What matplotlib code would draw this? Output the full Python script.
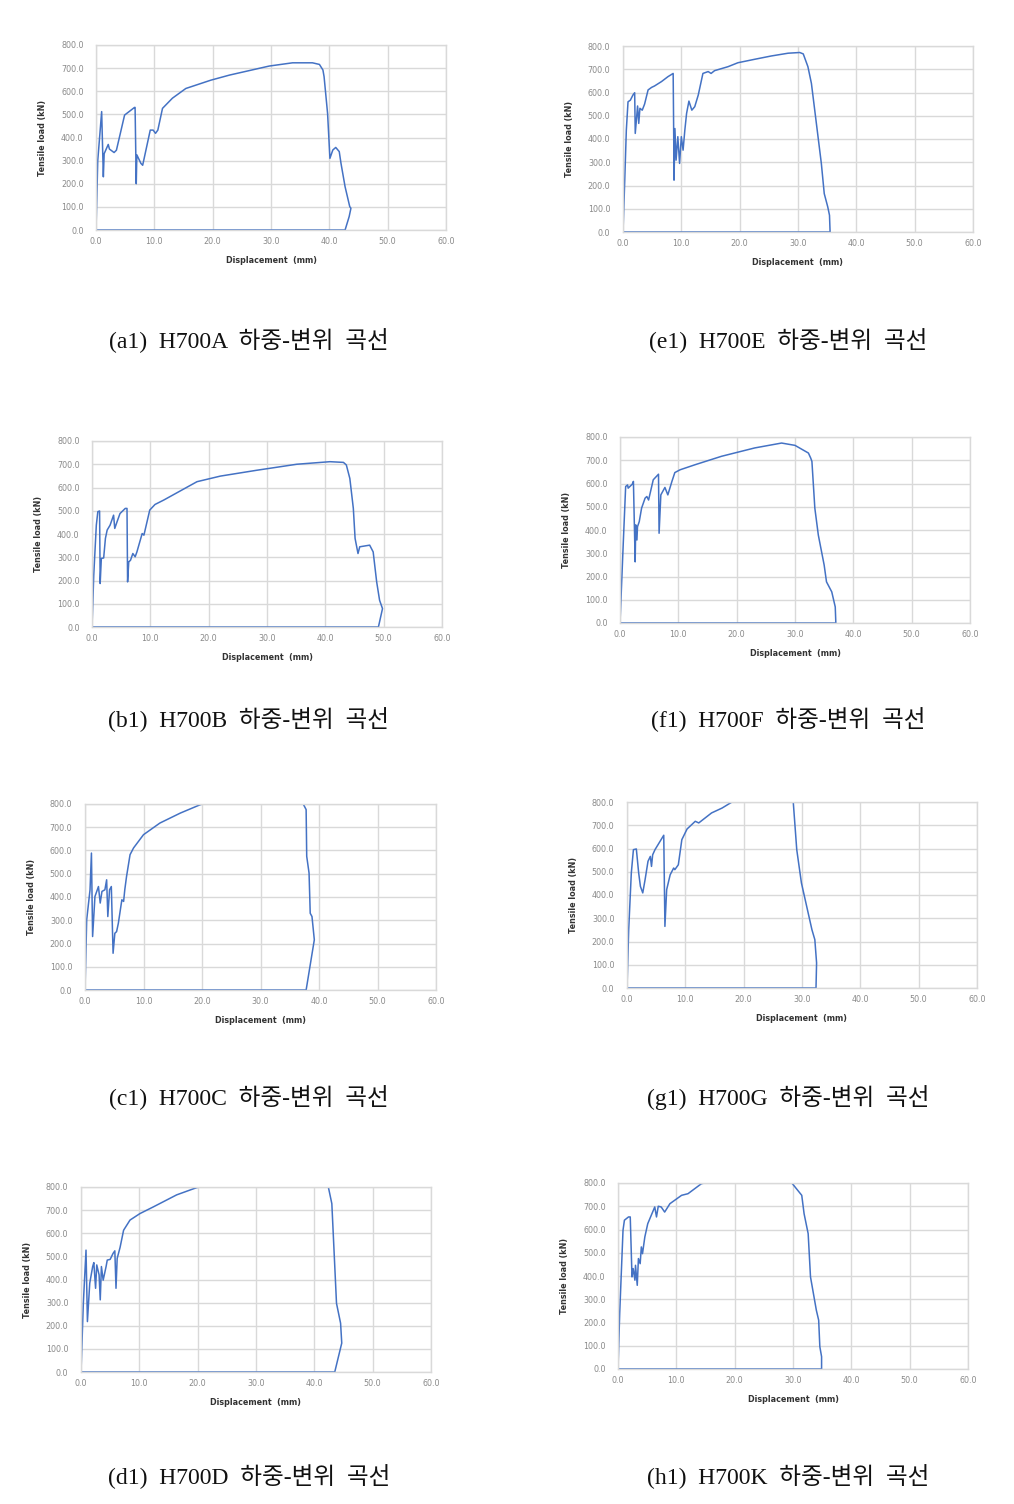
import numpy as np
import matplotlib
matplotlib.use("Agg")
import matplotlib.pyplot as plt

# load-displacement curves (x: mm, y: kN)
a1_x = [0, 0.3, 0.97, 1.26, 1.4, 2.1, 2.3, 3.1, 3.5, 4.9, 6.6, 6.7, 6.9, 7.0, 7.7, 8.0, 9.3, 9.8,
        10.2, 10.6, 11.4, 13.1, 15.4, 19.7, 22.9, 29.7, 33.7, 37.1, 38.3, 38.9, 39.1, 39.7, 40.1,
        40.6, 41.1, 41.7, 42.0, 42.7, 43.5, 43.7, 43.4, 42.7, 0]
a1_y = [0, 300, 512, 230, 330, 370, 350, 335, 345, 497, 530, 530, 200, 325, 288, 280, 432, 432,
        418, 432, 526, 570, 612, 648, 670, 709, 723, 723, 716, 692, 663, 504, 310,
        346, 357, 339, 288, 187, 101, 94, 58, 0, 0]

e1_x = [0, 0.3, 0.57, 0.86, 1.26, 1.7, 2.0, 2.1, 2.5, 2.7, 2.9, 3.3, 3.7, 4.3, 4.9, 5.4, 6.6, 7.7,
        8.6, 8.7, 8.75, 8.9, 9.1, 9.4, 9.7, 10.0, 10.3, 10.6, 10.9, 11.3, 11.8, 12.3, 12.9, 13.7,
        14.6, 15.1, 15.7, 18.0, 19.7, 22.6, 25.4, 28.3, 30.3, 30.9, 31.7, 32.3, 34.0, 34.5, 35.1,
        35.4, 35.5, 0]
e1_y = [0, 223, 438, 560, 567, 589, 599, 424, 542, 467, 532, 524, 550, 611, 622, 628, 647, 668,
        682, 395, 223, 445, 309, 410, 295, 410, 352, 438, 510, 563, 524, 539, 589, 682,
        690, 682, 694, 711, 728, 743, 757, 769, 772, 766, 711, 639, 295, 165, 108,
        72, 0, 0]

b1_x = [0, 0.3, 0.74, 1.0, 1.3, 1.4, 1.6, 2.0, 2.3, 2.6, 3.1, 3.7, 3.9, 4.3, 4.8, 5.7, 6.0, 6.1,
        6.3, 6.6, 7.0, 7.4, 7.7, 8.6, 8.9, 9.9, 10.8, 12.3, 18.0, 22.0, 28.2, 35.1, 40.8, 43.1,
        43.6, 44.2, 44.8, 45.1, 45.6, 45.9, 47.6, 48.2, 48.8, 49.3, 49.8, 49.1, 0]
b1_y = [0, 223, 438, 496, 499, 187, 295, 297, 381, 417, 438, 481, 424, 453, 488, 510, 510, 194,
        280, 287, 316, 302, 323, 402, 395, 503, 527, 546, 625, 649, 674, 700, 711, 708,
        697, 639, 510, 381, 316, 345, 352, 323, 194, 115, 79, 0, 0]

f1_x = [0, 0.29, 0.57, 0.97, 1.3, 1.4, 2.1, 2.3, 2.6, 2.7, 2.9, 3.0, 3.3, 3.7, 4.3, 4.6, 4.9, 5.7,
        6.6, 6.7, 7.0, 7.7, 8.2, 8.9, 9.4, 10.3, 12.9, 17.4, 23.1, 27.7, 30.0, 32.3, 32.7, 32.9,
        33.4, 34.0, 35.0, 35.4, 36.3, 36.9, 37.0, 0]
f1_y = [0, 177, 350, 587, 594, 580, 597, 609, 263, 422, 357, 414, 436, 494, 537, 544, 529, 616,
        640, 386, 551, 583, 551, 609, 647, 659, 681, 717, 753, 774, 764, 731, 709, 695,
        494, 378, 249, 177, 134, 69, 0, 0]

c1_x = [0, 0.29, 0.86, 1.1, 1.3, 1.7, 2.3, 2.6, 2.9, 3.4, 3.7, 3.9, 4.2, 4.5, 4.8, 5.1, 5.4, 5.7,
        6.3, 6.6, 6.8, 7.1, 7.7, 8.3, 10.0, 12.8, 16.3, 19.7, 28.5, 37.3, 37.8, 37.9, 38.3, 38.5,
        38.8, 39.2, 37.8, 0]
c1_y = [0, 302, 431, 589, 230, 402, 445, 374, 424, 431, 474, 316, 431, 445, 158, 244, 251, 287,
        388, 381, 431, 488, 582, 611, 668, 718, 761, 797, 860, 800, 776, 575, 503, 330,
        316, 216, 0, 0]

g1_x = [0, 0.29, 0.74, 1.1, 1.6, 2.0, 2.3, 2.7, 3.1, 3.6, 4.0, 4.2, 4.4, 4.8, 6.3, 6.5, 6.8, 7.4,
        8.0, 8.2, 8.8, 9.4, 10.3, 11.7, 12.3, 14.5, 16.3, 18.0, 23.0, 28.5, 29.1, 29.9, 31.7,
        32.2, 32.5, 32.4, 0]
g1_y = [0, 251, 495, 595, 598, 495, 437, 409, 466, 545, 566, 523, 573, 595, 657, 265, 423, 487,
        516, 509, 530, 638, 684, 717, 710, 753, 774, 800, 835, 800, 595, 452, 251,
        208, 108, 0, 0]

d1_x = [0, 0.4, 0.86, 1.1, 1.5, 2.0, 2.2, 2.5, 2.7, 3.1, 3.3, 3.5, 3.8, 4.3, 4.5, 5.0, 5.5, 5.8,
        6.0, 6.2, 6.7, 7.3, 8.4, 10.1, 12.4, 16.4, 19.8, 31.0, 42.4, 43.0, 43.8, 44.5, 44.7,
        43.5, 0]
d1_y = [0, 297, 527, 218, 384, 456, 473, 362, 463, 420, 312, 456, 397, 456, 484, 487, 513, 524,
        362, 491, 539, 613, 657, 685, 714, 766, 797, 870, 800, 728, 297, 211, 125,
        0, 0]

h1_x = [0, 0.29, 0.86, 1.1, 1.8, 2.1, 2.3, 2.4, 2.6, 2.9, 3.0, 3.3, 3.5, 3.8, 4.0, 4.2, 4.6, 5.1,
        6.3, 6.6, 6.9, 7.4, 8.0, 8.9, 10.9, 12.0, 14.3, 22.0, 29.8, 31.5, 31.9, 32.6, 33.0,
        34.0, 34.4, 34.6, 34.9, 34.9, 0]
h1_y = [0, 239, 597, 640, 654, 654, 482, 396, 432, 382, 446, 360, 475, 453, 525, 496, 568, 625,
        697, 654, 700, 697, 675, 711, 747, 754, 797, 840, 800, 747, 668, 582, 396,
        253, 210, 96, 53, 0, 0]

captions = ["(a1)  H700A  하중-변위  곡선", "(e1)  H700E  하중-변위  곡선",
            "(b1)  H700B  하중-변위  곡선", "(f1)  H700F  하중-변위  곡선",
            "(c1)  H700C  하중-변위  곡선", "(g1)  H700G  하중-변위  곡선",
            "(d1)  H700D  하중-변위  곡선", "(h1)  H700K  하중-변위  곡선"]
x_ticks = [0, 10, 20, 30, 40, 50, 60]
y_ticks = [0, 100, 200, 300, 400, 500, 600, 700, 800]

W, H = 1014, 1504
fig = plt.figure(figsize=(W / 100, H / 100), dpi=100)

# axes boxes in pixels: left, right, top, bottom
boxes = [(96, 446, 45, 230), (623, 973, 46, 232),
         (92, 442, 441, 627), (620, 970, 437, 623),
         (85, 436, 804, 990), (627, 977, 802, 988),
         (81, 431, 1187, 1372), (618, 968, 1183, 1369)]
curves = [(a1_x, a1_y), (e1_x, e1_y), (b1_x, b1_y), (f1_x, f1_y),
          (c1_x, c1_y), (g1_x, g1_y), (d1_x, d1_y), (h1_x, h1_y)]
cap_y = [341, 341, 720, 720, 1098, 1098, 1477, 1477]
cap_x = [249, 788, 249, 788, 249, 788, 249, 788]

blue = "#4472C4"
for i in range(8):
    l, r, t, b = boxes[i]
    ax = fig.add_axes([l / W, 1 - b / H, (r - l) / W, (b - t) / H])
    x, y = curves[i]
    ax.plot(x, y, color=blue, lw=1.1, clip_on=True)
    ax.set_xlim(0, 60)
    ax.set_ylim(0, 800)
    ax.set_xticks(x_ticks)
    ax.set_yticks(y_ticks)
    ax.set_xticklabels([f"{v:.1f}" for v in x_ticks])
    ax.set_yticklabels([f"{v:.1f}" for v in y_ticks])
    ax.grid(True, color="#d9d9d9", lw=1.0)
    ax.set_axisbelow(True)
    for s in ax.spines.values():
        s.set_color("#d9d9d9")
        s.set_linewidth(1.0)
    ax.tick_params(length=0, labelsize=5.8, labelcolor="#8a8a8a")
    ax.tick_params(axis="y", pad=9)
    ax.tick_params(axis="x", pad=5)
    ax.set_xlabel("Displacement  (mm)", fontsize=5.8, fontweight="bold", color="#333333", labelpad=7)
    ax.set_ylabel("Tensile load (kN)", fontsize=5.8, fontweight="bold", color="#333333", labelpad=10)
    fig.text(cap_x[i] / W, 1 - cap_y[i] / H, captions[i], ha="center", va="center",
             fontsize=17, family=["Liberation Serif", "Noto Sans CJK KR"], color="#111111")

fig.savefig("out.png", dpi=100, facecolor="white")
